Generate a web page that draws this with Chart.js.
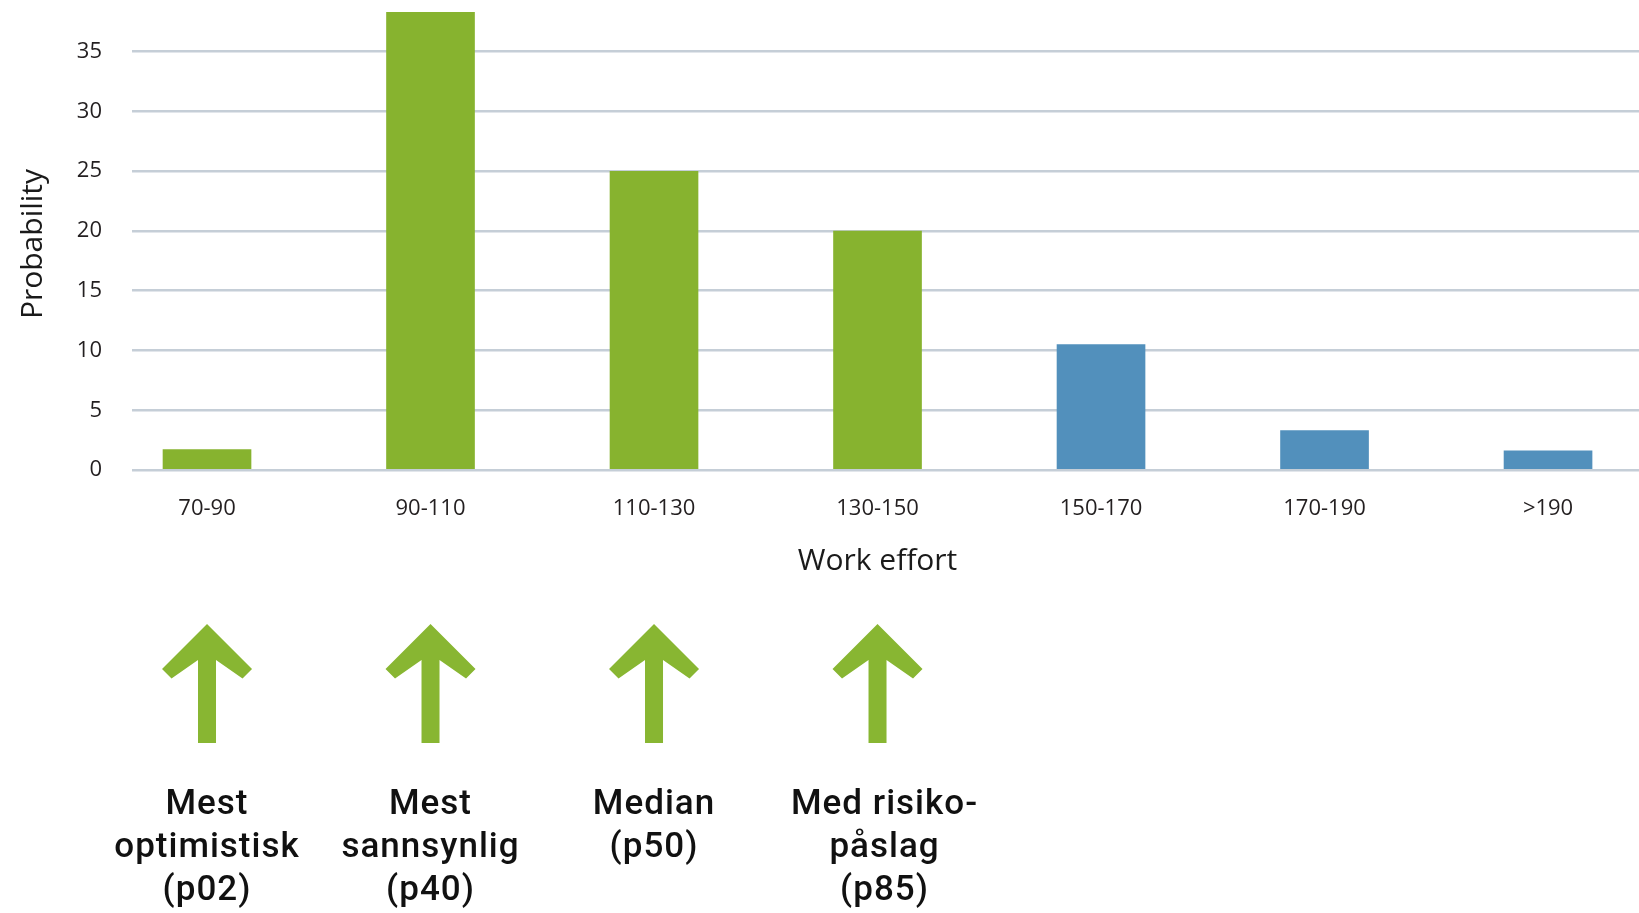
<!DOCTYPE html>
<html>
<head>
<meta charset="utf-8">
<title>Work effort</title>
<script src="https://cdn.jsdelivr.net/npm/chart.js@4.4.1/dist/chart.umd.min.js"></script>
<style>
  html, body { margin: 0; padding: 0; background: #fff; }
  #wrap { width: 1639px; height: 913px; }
</style>
</head>
<body>
<div id="wrap"><canvas id="effort"></canvas></div>
<script>
let categories = ['70-90', '90-110', '110-130', '130-150', '150-170', '170-190', '>190']
let probability = [1.7, 38.3, 25, 20, 10.5, 3.3, 1.6]
let barColors = ['#87b32f', '#87b32f', '#87b32f', '#87b32f', '#5290bc', '#5290bc', '#5290bc']
let yTicks = [0, 5, 10, 15, 20, 25, 30, 35]

// arrows under the axis: which category they point at, and the text below them
let markerIndex = [0, 1, 2, 3]
let markerLabels = [
  ['Mest', 'optimistisk', '(p02)'],
  ['Mest', 'sannsynlig', '(p40)'],
  ['Median', '(p50)'],
  ['Med risiko-', 'påslag', '(p85)']
]
let markerTextShift = [0, 0, 0, 7]

const markers = {
  id: 'markers',
  afterDraw(chart) {
    const ctx = chart.ctx
    const x = chart.scales.x
    ctx.save()

    // axis title, centred on the full category span
    const mid = (x.getPixelForValue(-0.5) + x.getPixelForValue(categories.length - 0.5)) / 2
    ctx.fillStyle = '#1a1a1a'
    ctx.font = '30px "Open Sans"'
    ctx.textAlign = 'center'
    ctx.textBaseline = 'alphabetic'
    ctx.fillText('Work effort', mid, 570)

    markerIndex.forEach((idx, k) => {
      const cx = x.getPixelForValue(idx)
      ctx.fillStyle = '#88b632'
      ctx.beginPath()
      ctx.moveTo(cx, 624)
      ctx.lineTo(cx + 45, 669)
      ctx.lineTo(cx + 35.5, 678.5)
      ctx.lineTo(cx + 9, 660)
      ctx.lineTo(cx + 9, 743)
      ctx.lineTo(cx - 9, 743)
      ctx.lineTo(cx - 9, 660)
      ctx.lineTo(cx - 35.5, 678.5)
      ctx.lineTo(cx - 45, 669)
      ctx.closePath()
      ctx.fill()

      ctx.fillStyle = '#111'
      ctx.font = '500 35px Roboto'
      ctx.letterSpacing = '1px'
      ctx.textAlign = 'center'
      markerLabels[k].forEach((line, j) => ctx.fillText(line, cx + markerTextShift[k], 814 + j * 43))
      ctx.letterSpacing = '0px'
    })
    ctx.restore()
  }
}

let ctx = document.getElementById('effort').getContext('2d')

let effortChart = new Chart(ctx, {
  type: 'bar',
  data: {
    datasets: [{
      data: categories.map((c, i) => ({x: i, y: probability[i]})),
      backgroundColor: barColors,
      borderWidth: 0,
      barThickness: 88,
      clip: false
    }]
  },
  options: {
    responsive: true,
    maintainAspectRatio: false,
    animation: false,
    layout: {padding: {top: 18, bottom: 334, left: 0, right: 0}},
    plugins: {
      legend: {display: false},
      tooltip: {enabled: false}
    },
    scales: {
      x: {
        type: 'linear',
        min: -0.3356,
        max: 6.407,
        offset: false,
        grid: {display: false},
        border: {display: false},
        afterBuildTicks: s => { s.ticks = categories.map((c, i) => ({value: i})) },
        afterFit: s => { s.height = 109; s.paddingLeft = 0; s.paddingRight = 0 },
        ticks: {
          callback: v => categories[v],
          font: {family: 'Open Sans', size: 22},
          color: '#231f20',
          padding: 18,
          maxRotation: 0,
          autoSkip: false
        }
      },
      y: {
        min: 0,
        max: 37.82,
        afterBuildTicks: s => { s.ticks = yTicks.map(v => ({value: v})) },
        afterFit: s => { s.width = 132; s.paddingTop = 0; s.paddingBottom = 0 },
        grid: {color: '#c5ced7', lineWidth: 2.5, drawTicks: false},
        border: {display: false},
        ticks: {
          font: {family: 'Open Sans', size: 22},
          color: '#231f20',
          padding: 30
        },
        title: {
          display: true,
          text: 'Probability',
          font: {family: 'Open Sans', size: 30},
          color: '#1a1a1a',
          padding: {top: 15, bottom: 0}
        }
      }
    }
  },
  plugins: [markers]
})
</script>
</body>
</html>
